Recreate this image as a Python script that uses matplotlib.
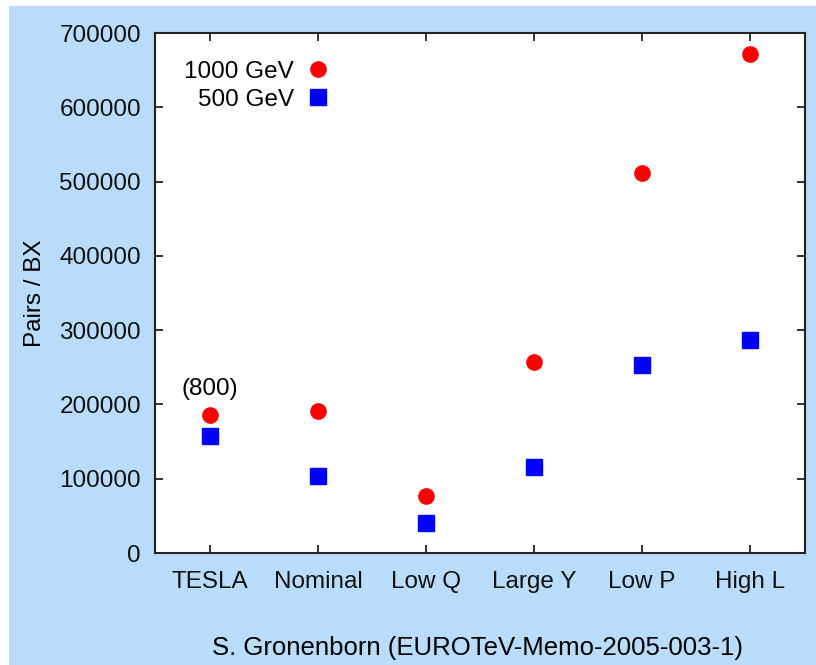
import matplotlib
matplotlib.use("Agg")
import matplotlib.pyplot as plt
from matplotlib.patches import Rectangle

categories = ["TESLA", "Nominal", "Low Q", "Large Y", "Low P", "High L"]
pairs_1000 = [186000, 191000, 77000, 257000, 511000, 672000]
pairs_500 = [158000, 104000, 40000, 116000, 253000, 287000]
yticks = [0, 100000, 200000, 300000, 400000, 500000, 600000, 700000]

plt.rcParams['font.family'] = ['Liberation Sans', 'DejaVu Sans']
FS = 17.5

fig = plt.figure(figsize=(8.16, 6.65), dpi=100)
fig.patch.set_facecolor('white')
bg = Rectangle((9 / 816, 0), 1, 1 - 6 / 665, transform=fig.transFigure,
               facecolor='#b9dcfb', edgecolor='none', zorder=-10)
fig.patches.append(bg)

ax = fig.add_axes([155 / 816, 1 - 553 / 665, 650 / 816, 520 / 665])
ax.set_facecolor('white')
x = list(range(len(categories)))
ax.plot(x, pairs_1000, 'o', color='#ff0000', markersize=11, label='1000 GeV', linestyle='none')
ax.plot(x, pairs_500, 's', color='#0000ff', markersize=11.5, label='500 GeV', linestyle='none')

ax.set_xlim(-0.51, 5.51)
ax.set_ylim(0, 700000)
ax.set_xticks(x)
ax.set_xticklabels(categories)
ax.set_yticks(yticks)
ax.set_yticklabels([str(v) for v in yticks])
ax.tick_params(direction='in', length=6, width=1.2, top=True, right=True,
               labelsize=FS, pad=10, colors='#111111')
ax.tick_params(axis='x', pad=13)
for s in ax.spines.values():
    s.set_linewidth(1.5)
    s.set_color('#222222')

ax.set_ylabel('Pairs / BX', fontsize=FS, labelpad=10)
ax.annotate('(800)', xy=(0, pairs_1000[0]), xytext=(0, 11), textcoords='offset points',
            ha='center', va='bottom', fontsize=FS)

leg = ax.legend(loc='upper left', bbox_to_anchor=(0.0188, 0.979), markerfirst=False,
                frameon=False, fontsize=FS, handletextpad=0.17, labelspacing=0.245,
                borderaxespad=0.3, handlelength=1.6)
for t in leg.get_texts():
    t.set_ha('right')

fig.text(478 / 816, 1 - 648 / 665, 'S. Gronenborn (EUROTeV-Memo-2005-003-1)',
         ha='center', va='center', fontsize=18.5)

fig.savefig('out.png', dpi=100, facecolor=fig.get_facecolor())
